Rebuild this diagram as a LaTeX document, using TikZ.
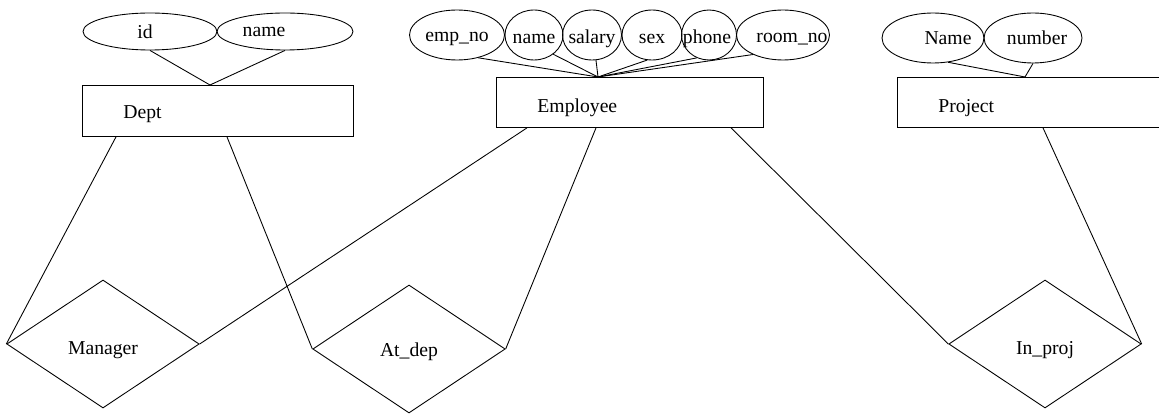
\documentclass[tikz,border=0pt]{standalone}
\usepackage{fontspec}
\setmainfont{Liberation Serif}
\usetikzlibrary{shapes.geometric, calc}

\begin{document}
\begin{tikzpicture}[x=0.02cm, y=-0.02cm, line width=0.5pt,
  font=\fontsize{11.2}{13}\selectfont,
  entity/.style={draw, rectangle, anchor=north west, align=left, inner xsep=0.82cm, minimum height=1cm, text height=12pt, text depth=0pt},
  attr/.style={draw, ellipse, inner sep=0pt, minimum height=1cm},
  rel/.style={draw, diamond, inner sep=0pt, minimum width=3.85cm, minimum height=2.56cm, text height=12pt, text depth=0pt}]
  \clip (0,0) rectangle (1159,415);

  % entities
  \node[entity, text width=3.78cm, minimum height=1.02cm, text height=9pt] (dept) at (82,85) {Dept};
  \node[entity, text width=3.70cm] (employee) at (496,77) {Employee};
  \node[entity, text width=3.86cm] (project) at (897,77) {Project};
  \coordinate (dtop) at ($(dept.north west)+(128,0)$);
  \coordinate (etop) at ($(employee.north west)+(102,0)$);
  \coordinate (ptop) at ($(project.north west)+(128,0)$);

  % attributes of Dept
  \node[attr, minimum width=2.68cm, minimum height=0.74cm, label={[xshift=-0.1cm]center:id}] (did) at (150,31.5) {};
  \node[attr, minimum width=2.72cm, minimum height=0.74cm, label={[xshift=-0.42cm]center:name}] (dname) at (285,31.5) {};
  \draw (did.south) -- (dtop);
  \draw (dname.south) -- (dtop);

  % attributes of Employee
  \node[attr, minimum width=1.9cm, label={[yshift=-0.08cm]center:emp\_no}] (empno) at (457,35) {};
  \node[attr, minimum width=1.16cm, label={[yshift=-0.08cm]center:name}] (ename) at (534,35) {};
  \node[attr, minimum width=1.18cm, label={[yshift=-0.08cm]center:salary}] (salary) at (592,35) {};
  \node[attr, minimum width=1.2cm, label={[yshift=-0.08cm]center:sex}] (sex) at (652,35) {};
  \node[attr, minimum width=1.1cm, label={[xshift=-0.04cm, yshift=-0.08cm]center:phone}] (phone) at (709,35) {};
  \node[attr, minimum width=1.86cm, label={[xshift=0.18cm, yshift=-0.08cm]center:room\_no}] (roomno) at (783,35) {};
  \foreach \a/\ang in {empno/-47, ename/-45, salary/-81, sex/-101, phone/-118, roomno/-147}
    \draw (\a.\ang) -- (etop);

  % attributes of Project
  \node[attr, minimum width=2.04cm, label={[xshift=0.3cm]center:Name}] (pname) at (933,38) {};
  \node[attr, minimum width=1.96cm, label={[xshift=0.08cm]center:number}] (pnumber) at (1033,38) {};
  \draw (pname.-58) -- (ptop);
  \draw (pnumber.south) -- (ptop);

  % relationships
  \node[rel] (manager) at (103,344) {Manager};
  \node[rel, text height=8.5pt] (atdep) at (409,349) {At\_dep};
  \node[rel] (inproj) at (1045,344) {In\_proj};

  \draw ($(dept.south west)+(34,0)$) -- (manager.west);
  \draw ($(dept.south west)+(145,0)$) -- (atdep.west);
  \draw ($(employee.south west)+(31,0)$) -- (manager.east);
  \draw ($(employee.south west)+(100,0)$) -- (atdep.east);
  \draw ($(employee.south west)+(235,0)$) -- (inproj.west);
  \draw ($(project.south west)+(146,0)$) -- (inproj.east);
\end{tikzpicture}
\end{document}
